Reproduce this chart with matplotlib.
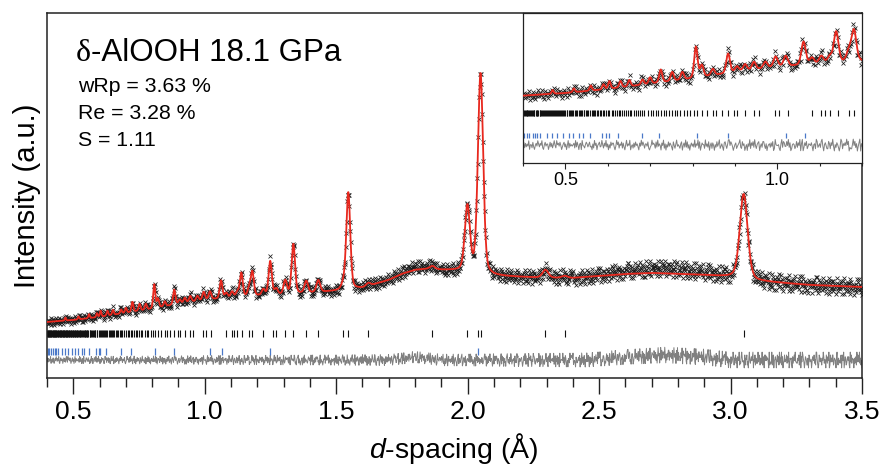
import numpy as np
import matplotlib.pyplot as plt
from matplotlib.ticker import MultipleLocator

plt.rcParams['font.family'] = ['Liberation Sans', 'DejaVu Sans']
plt.rcParams['mathtext.fontset'] = 'custom'
plt.rcParams['mathtext.rm'] = 'Liberation Sans'
plt.rcParams['mathtext.it'] = 'Liberation Sans:italic'

# refined background (d in Angstrom, intensity in arbitrary units)
bg_d = [0.40, 0.50, 0.60, 0.70, 0.80, 0.90, 1.00, 1.10, 1.20, 1.30, 1.40,
        1.50, 1.60, 1.70, 1.75, 1.80, 1.85, 1.90, 1.97, 2.10, 2.20, 2.30,
        2.40, 2.50, 2.60, 2.70, 2.80, 2.90, 3.00, 3.10, 3.20, 3.30, 3.40, 3.50]
bg_int = [56, 58, 61, 65, 69, 74, 78, 80, 82, 83, 85,
          87, 90, 98, 104, 108, 109, 108, 107, 102, 101, 100,
          100, 102, 104, 105, 104, 103, 101, 97, 95, 93, 92, 91]

# observed peaks: position and height above background
peak_d = [0.470, 0.520, 0.560, 0.590, 0.604, 0.630, 0.651, 0.682, 0.700,
          0.725, 0.752, 0.776, 0.808, 0.822, 0.848, 0.884, 0.905, 0.924,
          0.945, 0.972, 0.996, 1.020, 1.062, 1.082, 1.104, 1.124, 1.139,
          1.169, 1.181, 1.223, 1.249, 1.272, 1.306, 1.337, 1.386, 1.432,
          1.527, 1.546, 1.622, 1.866, 1.999, 2.049, 2.296, 2.369, 3.050]
peak_h = [3, 3, 4, 4, 6, 5, 5, 4, 5,
          10, 7, 6, 24, 9, 5, 15, 4, 5,
          6, 5, 8, 8, 18, 5, 6, 5, 24,
          8, 24, 6, 34, 6, 14, 50, 12, 12,
          5, 97, 3, 3, 65, 200, 8, 2, 85]
fwhm_over_d = 0.0115   # instrumental resolution
eta = 0.3              # Lorentzian fraction

# obs - calc misfit of the amorphous humps
excess_d = [0.40, 1.70, 1.80, 1.90, 2.45, 2.60, 2.75, 2.90, 3.00, 3.50]
excess_int = [0, 0, 3, 0, 0, 3, 5, 3, 0, 0]

# counting-noise level
sigma_d = [0.4, 0.8, 1.2, 1.6, 2.0, 2.4, 2.8, 3.5]
sigma_int = [2.0, 2.4, 2.8, 3.2, 3.6, 4.2, 4.8, 4.8]

# residuals in esd units, one digit per data point (0..9 -> level table)
levels = [-1.64, -1.04, -0.67, -0.39, -0.13, 0.13, 0.39, 0.67, 1.04, 1.64]
resid_digits = (
    "4817263905518204739627491058366038271594195738402682604917353571928406709431586258230619470468239517"
    "3926051847720395816481720593649035172846207394851663810249575182936407491605283752084169353168047292"
    "8150473629264918037551936280471740528369136207841599486302571357921846025063917482941578036288416035"
    "6273801954451069287338492701565138274906902748136547305619824628930574118617493052752039816474958021"
    "1594826037906352184772836041593481572093665027938412937648105520941386577318205964643981205789162034"
    "7038192654215864709339041572868724069153302659187458917340625463072918150846321797285034196152047389"
    "2461905738640752813917359428064185062397422971036485039628174506184273945713850269684127590341569082"
    "9305716248187234690556841379020493718562703156824941950387261682019543774582691306129704835526381940"
    "5742038916326890147528015643972938415207609482736154276134895807152849366302915847841653027918470623"
    "0689425173971354608242978016356730258491812609574830539872146426397081558025146937107839254653914806"
    "3817609245549271386014063295878691342075235748061962718405396385071624910472583619586930142774021583"
    "7250843196183649520772587104360247165389936812057401459367238159462083706304927158291047653862715049"
    "4603918275729405163881734628059536082917441273908656491082734608312745910927351846458261930357148962"
    "1982650437360817245924051937688194726053507235981648260754913279634208165813069425747905381624293871"
    "6529137084847563091232916804574058371926691702483548273901656107258493322648159073985302764116087345"
    "0376482519952018736416497253085274901836388126540793163427805849037612574710938265506247193853926140"
)

# reflection markers: delta-AlOOH (black) and diamond (blue)
ticks_main = [
    0.401, 0.403, 0.404, 0.406, 0.409, 0.410, 0.412, 0.415, 0.417, 0.418,
    0.421, 0.423, 0.426, 0.427, 0.430, 0.432, 0.433, 0.436, 0.439, 0.441,
    0.442, 0.445, 0.448, 0.450, 0.452, 0.455, 0.456, 0.459, 0.462, 0.464,
    0.466, 0.469, 0.471, 0.474, 0.476, 0.477, 0.480, 0.483, 0.485, 0.488,
    0.490, 0.493, 0.495, 0.497, 0.500, 0.503, 0.505, 0.508, 0.511, 0.513,
    0.515, 0.518, 0.522, 0.525, 0.527, 0.531, 0.534, 0.536, 0.539, 0.543,
    0.545, 0.548, 0.552, 0.554, 0.557, 0.562, 0.565, 0.567, 0.571, 0.574,
    0.578, 0.581, 0.584, 0.589, 0.592, 0.596, 0.601, 0.604, 0.609, 0.612,
    0.617, 0.621, 0.626, 0.629, 0.634, 0.638, 0.643, 0.647, 0.652, 0.656,
    0.661, 0.666, 0.671, 0.676, 0.682, 0.686, 0.694, 0.701, 0.707, 0.713,
    0.718, 0.725, 0.732, 0.738, 0.744, 0.751, 0.758, 0.763, 0.771, 0.779,
    0.786, 0.795, 0.803, 0.811, 0.822, 0.834, 0.848, 0.856, 0.869, 0.884,
    0.897, 0.905, 0.924, 0.945, 0.956, 0.994, 1.005, 1.025, 1.082, 1.104,
    1.112, 1.124, 1.143, 1.169, 1.181, 1.223, 1.261, 1.272, 1.306, 1.337,
    1.386, 1.432, 1.527, 1.546, 1.622, 1.866, 1.999, 2.041, 2.049, 2.296,
    2.369, 3.050]
ticks_diamond = [0.403, 0.409, 0.415, 0.424, 0.429, 0.434, 0.441, 0.456, 0.469,
                 0.481, 0.494, 0.508, 0.519, 0.533, 0.541, 0.559, 0.586, 0.596,
                 0.602, 0.625, 0.681, 0.721, 0.811, 0.884, 1.021, 1.066, 1.250,
                 2.041]

title = "-AlOOH 18.1 GPa"
stats = ["wRp = 3.63 %", "Re = 3.28 %", "S = 1.11"]

# vertical layout of the stacked plot (intensity units)
diff_offset = 18


def profile(d):
    """ background + pseudo-Voigt peaks """
    y = np.interp(d, bg_d, bg_int).astype(float)
    for x0, h in zip(peak_d, peak_h):
        w = fwhm_over_d * x0
        u = (d - x0) / w
        y += h * (eta / (1 + 4 * u ** 2) + (1 - eta) * np.exp(-4 * np.log(2) * u ** 2))
    return y


d_obs = np.linspace(0.4, 3.5, len(resid_digits))
z = np.array([levels[int(c)] for c in resid_digits])
resid = z * np.interp(d_obs, sigma_d, sigma_int) + np.interp(d_obs, excess_d, excess_int)
calc_obs = profile(d_obs)
obs = calc_obs + resid
diff = obs - calc_obs + diff_offset

d_calc = np.linspace(0.4, 3.5, 8000)
calc = profile(d_calc)

narrow = ['Liberation Sans Narrow', 'Liberation Sans', 'DejaVu Sans']

fig = plt.figure(figsize=(8.81, 4.68), dpi=100)
ax = fig.add_axes([47 / 881, 1 - 378 / 468, 815 / 881, 365 / 468])


def draw_pattern(a, black_row, blue_row):
    a.plot(d_obs, obs, 'x', color='#1a1a1a', ms=3.2, mew=0.55, zorder=2)
    a.plot(d_calc, calc, '-', color='#e8281e', lw=1.3, zorder=3)
    a.plot(d_obs, diff, '-', color='#808080', lw=0.7, zorder=2)
    a.vlines(ticks_main, *black_row, color='#111111', lw=0.8, zorder=2)
    a.vlines(ticks_diamond, *blue_row, color='#4a78c8', lw=0.9, zorder=2)


draw_pattern(ax, (41, 48), (23, 30))
ax.set_xlim(0.4, 3.5)
ax.set_ylim(0, 365)
ax.set_yticks([])
ax.set_xticks([0.5, 1.0, 1.5, 2.0, 2.5, 3.0, 3.5])
ax.set_xticklabels(['0.5', '1.0', '1.5', '2.0', '2.5', '3.0', '3.5'])
ax.xaxis.set_minor_locator(MultipleLocator(0.1))
ax.tick_params(axis='x', which='major', direction='out', length=11.5, width=1.0,
               labelsize=19, pad=4, labelfontfamily=narrow, color='#222222')
ax.tick_params(axis='x', which='minor', direction='out', length=6.5, width=1.0,
               color='#222222')
for s in ax.spines.values():
    s.set_color('#222222')
    s.set_linewidth(1.1)

fig.text(0.031, 1 - 195.5 / 468, 'Intensity (a.u.)', rotation=90, fontsize=21,
         ha='center', va='center')
fig.text(454 / 881, 1 - 448 / 468, '$d$-spacing (Å)', fontsize=20.5,
         ha='center', va='center')

# label block in the upper left
delta = fig.text(76 / 881, 1 - 61 / 468, 'δ', fontsize=23, family='Liberation Serif',
                 va='baseline', ha='left')
ax.annotate(title, xy=(1, 0), xycoords=delta, fontsize=22.5, va='bottom', ha='left')
for i, s in enumerate(stats):
    fig.text(78 / 881, 1 - (92 + 27 * i) / 468, s, fontsize=15.3, va='baseline')

# zoomed view of the short d-spacing range
axin = fig.add_axes([523 / 881, 1 - 163 / 468, 339 / 881, 150 / 468])
draw_pattern(axin, (40.5, 45.0), (23.5, 27.3))
axin.set_xlim(0.4, 1.2)
axin.set_ylim(4.2, 119.6)
axin.set_yticks([])
axin.set_xticks([0.5, 1.0])
axin.set_xticklabels(['0.5', '1.0'])
axin.xaxis.set_minor_locator(MultipleLocator(0.1))
axin.tick_params(axis='x', which='major', direction='out', length=4.5, width=0.8,
                 labelsize=13, pad=2, labelfontfamily=narrow, color='#222222')
axin.tick_params(axis='x', which='minor', direction='out', length=2.5, width=0.8,
                 color='#222222')
for s in axin.spines.values():
    s.set_color('#222222')
    s.set_linewidth(0.9)

fig.savefig('out.png', dpi=100)
